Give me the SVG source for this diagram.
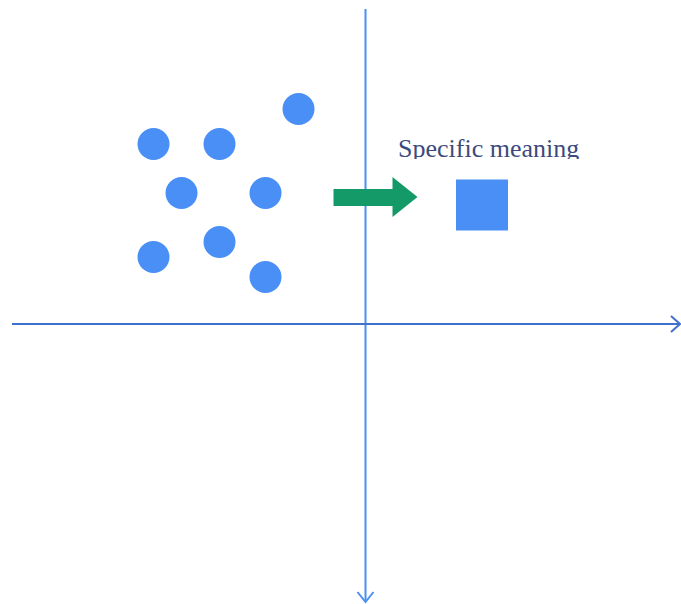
<svg xmlns="http://www.w3.org/2000/svg" width="681" height="604" viewBox="0 0 681 604">
  <defs>
    <style>
      .dot { fill: #4a8ff5; }
      .axis { fill: none; stroke-width: 2; }
      .label { font-family: "Liberation Serif", "Times New Roman", serif; font-size: 26px; fill: #3d4a7c; }
    </style>
    <clipPath id="labelClip">
      <rect x="380" y="120" width="240" height="39"/>
    </clipPath>
  </defs>

  <!-- axes -->
  <g id="connectors">
    <g id="y-axis" stroke="#4a8ff5">
      <line class="axis" x1="365.5" y1="9" x2="365.5" y2="602"/>
      <polyline class="axis" points="357.5,592 365.5,602 373.5,592"/>
    </g>
    <g id="x-axis" stroke="#3f72cf">
      <line class="axis" x1="12" y1="324" x2="679" y2="324"/>
      <polyline class="axis" points="671,316 680,324 671,332"/>
    </g>
  </g>

  <!-- scattered points -->
  <g id="points">
    <circle class="dot" cx="298.5" cy="109" r="16"/>
    <circle class="dot" cx="153.5" cy="144" r="16"/>
    <circle class="dot" cx="219.5" cy="144" r="16"/>
    <circle class="dot" cx="181.5" cy="193" r="16"/>
    <circle class="dot" cx="265.5" cy="193" r="16"/>
    <circle class="dot" cx="219.5" cy="242" r="16"/>
    <circle class="dot" cx="153.5" cy="257" r="16"/>
    <circle class="dot" cx="265.5" cy="277" r="16"/>
  </g>

  <!-- transformation arrow -->
  <g id="arrow">
    <polygon fill="#149a68" points="333.5,189 392.5,189 392.5,177 417.5,197 392.5,217 392.5,206 333.5,206"/>
  </g>

  <!-- resulting square -->
  <g id="square">
    <rect class="dot" x="456" y="179.5" width="52" height="51"/>
  </g>

  <g id="label">
    <text class="label" x="398" y="157" clip-path="url(#labelClip)">Specific meaning</text>
  </g>
</svg>
